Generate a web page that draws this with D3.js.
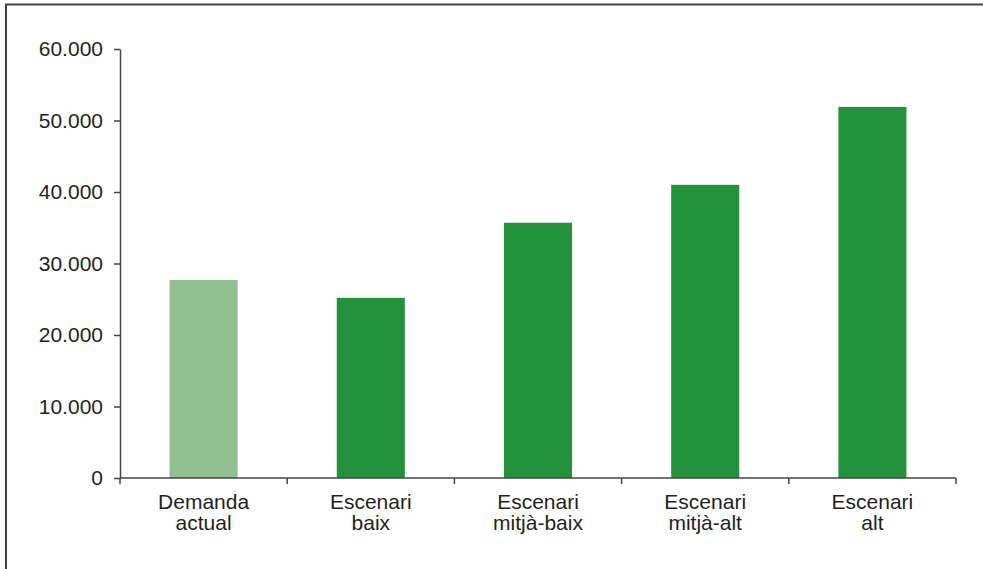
<!DOCTYPE html>
<html>
<head>
<meta charset="utf-8">
<script src="https://cdn.jsdelivr.net/npm/d3@7"></script>
<style>
  html, body { margin: 0; padding: 0; background: #fff; }
  svg { display: block; }
  text { font-family: "Liberation Sans", Arial, sans-serif; fill: #231f20; }
</style>
</head>
<body>
<svg id="chart" width="983" height="569"></svg>
<script>
// Demand by scenario
const categories = [["Demanda", "actual"], ["Escenari", "baix"], ["Escenari", "mitjà-baix"], ["Escenari", "mitjà-alt"], ["Escenari", "alt"]];
const values = [27700, 25200, 35700, 41000, 51900];
const barColors = ["#93c090", "#24913c", "#24913c", "#24913c", "#24913c"];
const yTicks = [0, 10000, 20000, 30000, 40000, 50000, 60000];

const svg = d3.select("#chart");
const W = 983, H = 569;
const plotL = 120, plotR = 956, plotT = 49, plotB = 478;
const fontSize = 21;

// outer frame (runs off the right and bottom edges)
svg.append("path")
  .attr("d", `M6,${H + 5} L6,4.5 L${W + 5},4.5`)
  .attr("fill", "none").attr("stroke", "#444").attr("stroke-width", 2);

const keys = categories.map((c, i) => i);
const x = d3.scaleBand().domain(keys).range([plotL, plotR]).paddingInner(0.593).paddingOuter(0.2965);
const y = d3.scaleLinear().domain([0, 60000]).range([plotB, plotT]);

const fmt = d => d3.format(",")(d).replace(/,/g, ".");

// bars
svg.append("g").selectAll("rect").data(values).join("rect")
  .attr("x", (d, i) => x(i))
  .attr("width", x.bandwidth())
  .attr("y", d => y(d))
  .attr("height", d => y(0) - y(d))
  .attr("fill", (d, i) => barColors[i]);

// y axis
const yAxis = svg.append("g").attr("transform", `translate(${plotL},0)`)
  .call(d3.axisLeft(y).tickValues(yTicks).tickFormat(fmt).tickSize(6).tickPadding(11).tickSizeOuter(0));
yAxis.select(".domain").attr("stroke", "#444").attr("stroke-width", 1.5);
yAxis.selectAll(".tick line").attr("stroke", "#444").attr("stroke-width", 1.5);
yAxis.selectAll(".tick text").attr("font-size", fontSize).style("font-family", "Liberation Sans, Arial, sans-serif").attr("fill", "#231f20");

// x axis with boundary ticks between categories
const boundaries = d3.range(categories.length + 1).map(i => plotL + i * (plotR - plotL) / categories.length);
const xg = svg.append("g");
xg.append("line").attr("x1", plotL).attr("x2", plotR).attr("y1", plotB).attr("y2", plotB)
  .attr("stroke", "#444").attr("stroke-width", 1.5);
xg.selectAll("line.b").data(boundaries).join("line").attr("class", "b")
  .attr("x1", d => d).attr("x2", d => d).attr("y1", plotB).attr("y2", plotB + 6)
  .attr("stroke", "#444").attr("stroke-width", 1.5);

// category labels
const lbl = svg.append("g").selectAll("text").data(categories).join("text")
  .attr("text-anchor", "middle").attr("font-size", fontSize)
  .attr("x", (d, i) => x(i) + x.bandwidth() / 2)
  .attr("y", 509);
lbl.selectAll("tspan").data(d => d).join("tspan")
  .attr("x", function () { return this.parentNode.getAttribute("x"); })
  .attr("dy", (d, j) => j === 0 ? 0 : 20.7)
  .text(d => d);
</script>
</body>
</html>
